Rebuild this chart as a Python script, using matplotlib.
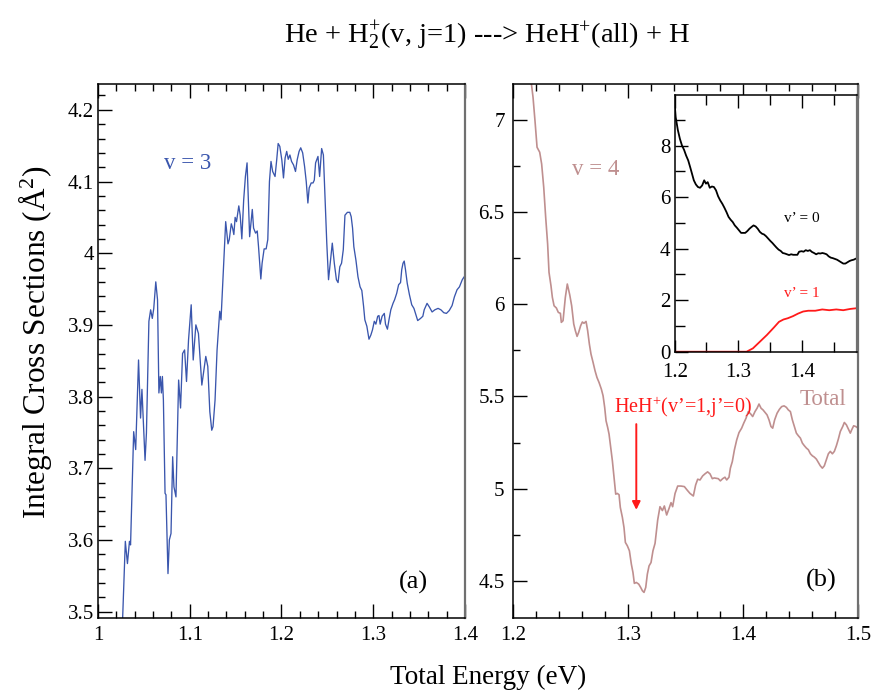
import matplotlib
matplotlib.use('Agg')  # no display
import matplotlib.pyplot as plt
from matplotlib.ticker import MultipleLocator, FuncFormatter

plt.rcParams['font.family'] = ['Liberation Serif', 'DejaVu Serif']
plt.rcParams['mathtext.fontset'] = 'custom'
plt.rcParams['mathtext.rm'] = 'Liberation Serif'
plt.rcParams['mathtext.it'] = 'Liberation Serif:italic'

# panel (a): v = 3
energy_v3 = [1.0255, 1.0268, 1.0298, 1.0321, 1.0343, 1.0355, 1.0389, 1.0411, 1.0442, 1.0464,
             1.0479, 1.0513, 1.0528, 1.0555, 1.0574, 1.0592, 1.0608, 1.0630, 1.0649, 1.0664,
             1.0679, 1.0691, 1.0702, 1.0713, 1.0731, 1.0741, 1.0763, 1.0778, 1.0796, 1.0814,
             1.0828, 1.0850, 1.0879, 1.0900, 1.0922, 1.0944, 1.0965, 1.0987, 1.1016, 1.1038,
             1.1067, 1.1095, 1.1132, 1.1154, 1.1175, 1.1197, 1.1219, 1.1240, 1.1254, 1.1276,
             1.1298, 1.1327, 1.1341, 1.1362, 1.1392,
             1.1417, 1.1431, 1.1453, 1.1467, 1.1481, 1.1495, 1.1510, 1.1535, 1.1550, 1.1568,
             1.1588, 1.1607, 1.1625, 1.1639, 1.1653, 1.1667, 1.1682, 1.1696, 1.1718, 1.1736,
             1.1750, 1.1760, 1.1775, 1.1789, 1.1811, 1.1833, 1.1851, 1.1869, 1.1886, 1.1904,
             1.1930, 1.1948, 1.1964, 1.1982, 1.2004, 1.2022, 1.2040, 1.2057, 1.2074, 1.2092,
             1.2110, 1.2132, 1.2153, 1.2171, 1.2192, 1.2210, 1.2231, 1.2252, 1.2270, 1.2288,
             1.2302, 1.2324, 1.2344, 1.2358, 1.2372, 1.2398, 1.2416, 1.2438, 1.2457, 1.2475,
             1.2494, 1.2513, 1.2532, 1.2554, 1.2576, 1.2599, 1.2617, 1.2636, 1.2655, 1.2674,
             1.2692,
             1.2719, 1.2745, 1.2760, 1.2775, 1.2789, 1.2812, 1.2834, 1.2857, 1.2876, 1.2895,
             1.2909, 1.2931, 1.2954, 1.2975, 1.2992, 1.3012, 1.3029, 1.3049, 1.3063, 1.3076,
             1.3097, 1.3121, 1.3134, 1.3155, 1.3172, 1.3192, 1.3216, 1.3233, 1.3256, 1.3277,
             1.3298, 1.3311, 1.3325, 1.3338, 1.3352, 1.3371, 1.3395, 1.3420, 1.3444, 1.3461,
             1.3485, 1.3516, 1.3541, 1.3556, 1.3587, 1.3612, 1.3642, 1.3672, 1.3707, 1.3738,
             1.3769, 1.3798, 1.3829, 1.3860, 1.3885, 1.3914, 1.3940, 1.3971, 1.3991, 1.4000]
sigma_v3 = [3.45, 3.488, 3.598, 3.567, 3.598, 3.593, 3.751, 3.726, 3.851, 3.770,
            3.810, 3.711, 3.749, 3.905, 3.921, 3.909, 3.923, 3.960, 3.935, 3.805,
            3.828, 3.805, 3.828, 3.795, 3.665, 3.663, 3.553, 3.600, 3.609, 3.716,
            3.674, 3.660, 3.823, 3.784, 3.860, 3.865, 3.821, 3.879, 3.928, 3.851,
            3.900, 3.888, 3.816, 3.837, 3.856, 3.842, 3.779, 3.753, 3.758, 3.795,
            3.865, 3.919, 3.907, 3.963, 4.044,
            4.013, 4.019, 4.041, 4.035, 4.026, 4.050, 4.044, 4.066, 4.053, 4.020,
            4.074, 4.107, 4.126, 4.074, 4.023, 4.042, 4.061, 4.035, 4.028, 4.031,
            4.009, 3.991, 3.964, 3.986, 4.006, 4.006, 4.019, 4.100, 4.128, 4.114,
            4.107, 4.130, 4.153, 4.149, 4.130, 4.105, 4.133, 4.142, 4.131, 4.137,
            4.128, 4.123, 4.114, 4.130, 4.142, 4.147, 4.140, 4.121, 4.100, 4.070,
            4.091, 4.098, 4.098, 4.102, 4.126, 4.135, 4.107, 4.146, 4.137, 4.079,
            4.014, 3.963, 3.986, 4.014, 3.986, 3.963, 3.959, 3.981, 3.986, 4.005,
            4.053,
            4.057, 4.057, 4.051, 4.035, 4.009, 3.990, 3.967, 3.953, 3.948, 3.926,
            3.907, 3.898, 3.880, 3.886, 3.893, 3.905, 3.901, 3.912, 3.913, 3.901,
            3.912, 3.916, 3.901, 3.894, 3.907, 3.921, 3.930, 3.935, 3.944, 3.956,
            3.959, 3.977, 3.986, 3.989, 3.977, 3.958, 3.942, 3.928, 3.923, 3.916,
            3.906, 3.909, 3.912, 3.921, 3.930, 3.925, 3.918, 3.921, 3.923, 3.921,
            3.917, 3.916, 3.920, 3.927, 3.939, 3.949, 3.953, 3.963, 3.967, 3.963]

# panel (b): v = 4, total
energy_v4 = [1.2140, 1.2160, 1.2174, 1.2191, 1.2209, 1.2232, 1.2249, 1.2267, 1.2284, 1.2301,
             1.2313, 1.2330, 1.2342, 1.2357, 1.2377, 1.2394, 1.2412, 1.2420, 1.2435, 1.2455,
             1.2472, 1.2493, 1.2510, 1.2528, 1.2542, 1.2557, 1.2571, 1.2588, 1.2603, 1.2617,
             1.2635, 1.2649, 1.2664, 1.2678, 1.2696, 1.2713, 1.2730, 1.2748, 1.2768, 1.2783,
             1.2797, 1.2809, 1.2823, 1.2835, 1.2849, 1.2864, 1.2878, 1.2893, 1.2907, 1.2922,
             1.2933, 1.2951, 1.2965, 1.2977, 1.2994, 1.3012, 1.3029, 1.3043, 1.3055, 1.3072,
             1.3093, 1.3110, 1.3125, 1.3139, 1.3154, 1.3168, 1.3183, 1.3200, 1.3217,
             1.3235, 1.3258, 1.3278, 1.3299, 1.3316, 1.3336, 1.3357, 1.3374, 1.3388, 1.3409,
             1.3432, 1.3461, 1.3490, 1.3513, 1.3539, 1.3568, 1.3588, 1.3606, 1.3626, 1.3649,
             1.3669, 1.3692, 1.3713, 1.3733, 1.3750, 1.3767, 1.3785, 1.3803, 1.3823, 1.3843,
             1.3858, 1.3878, 1.3890, 1.3907, 1.3925, 1.3945, 1.3965, 1.3988, 1.4006, 1.4026,
             1.4046, 1.4067, 1.4084, 1.4104, 1.4122, 1.4139, 1.4157, 1.4174, 1.4191, 1.4209,
             1.4226, 1.4243, 1.4258, 1.4275, 1.4296, 1.4316, 1.4336, 1.4357, 1.4377, 1.4394,
             1.4412, 1.4429, 1.4447, 1.4464, 1.4481, 1.4499, 1.4516, 1.4533, 1.4551, 1.4568,
             1.4586, 1.4603, 1.4620, 1.4638, 1.4655, 1.4672, 1.4690, 1.4707, 1.4725, 1.4742,
             1.4759, 1.4777, 1.4794, 1.4812, 1.4829, 1.4846, 1.4867, 1.4881, 1.4899, 1.4916,
             1.4933, 1.4945, 1.4962, 1.4980, 1.5000]
sigma_v4 = [7.30, 7.195, 7.123, 6.996, 6.852, 6.825, 6.761, 6.635, 6.472, 6.327,
            6.173, 6.101, 6.038, 5.992, 5.980, 5.956, 5.951, 5.902, 5.911, 6.038,
            6.110, 6.052, 5.992, 5.893, 5.857, 5.826, 5.848, 5.884, 5.904, 5.897,
            5.907, 5.857, 5.784, 5.730, 5.685, 5.640, 5.603, 5.576, 5.540, 5.504,
            5.441, 5.368, 5.332, 5.296, 5.224, 5.151, 5.061, 4.970, 4.974, 4.967,
            4.898, 4.844, 4.789, 4.708, 4.690, 4.663, 4.590, 4.545, 4.486, 4.491,
            4.482, 4.464, 4.446, 4.437, 4.464, 4.536, 4.581, 4.599, 4.663,
            4.703, 4.830, 4.902, 4.881, 4.906, 4.857, 4.893, 4.924, 4.902, 4.974,
            5.014, 5.014, 5.011, 4.993, 4.974, 4.960, 5.020, 5.051, 5.047, 5.069,
            5.080, 5.091, 5.080, 5.054, 5.058, 5.056, 5.054, 5.042, 5.054, 5.062,
            5.047, 5.062, 5.111, 5.147, 5.210, 5.264, 5.304, 5.328, 5.355, 5.382,
            5.418, 5.405, 5.391, 5.418, 5.436, 5.459, 5.436, 5.427, 5.414, 5.400,
            5.373, 5.337, 5.328, 5.373, 5.409, 5.430, 5.445, 5.449, 5.441, 5.427,
            5.418, 5.373, 5.337, 5.301, 5.287, 5.274, 5.247, 5.233, 5.220, 5.211,
            5.189, 5.178, 5.171, 5.160, 5.142, 5.124, 5.111, 5.124, 5.157, 5.189,
            5.202, 5.189, 5.202, 5.233, 5.269, 5.310, 5.337, 5.359, 5.346, 5.323,
            5.301, 5.319, 5.341, 5.337, 5.328]

# inset: HeH+(v'=0) and HeH+(v'=1)
energy_inset0 = [1.2000, 1.2016, 1.2049, 1.2082, 1.2115, 1.2148, 1.2180, 1.2213, 1.2246, 1.2273,
                 1.2301, 1.2333, 1.2366, 1.2399, 1.2432, 1.2464, 1.2492, 1.2519, 1.2552, 1.2585,
                 1.2617, 1.2650, 1.2683, 1.2716, 1.2749, 1.2781, 1.2814, 1.2847, 1.2880, 1.2913,
                 1.2945, 1.2978, 1.3011, 1.3044, 1.3077, 1.3109, 1.3142, 1.3175, 1.3208, 1.3240,
                 1.3273, 1.3306, 1.3339, 1.3372, 1.3404, 1.3437, 1.3470, 1.3503, 1.3536, 1.3568,
                 1.3601, 1.3634, 1.3667, 1.3699, 1.3732, 1.3765, 1.3798, 1.3831, 1.3863, 1.3896,
                 1.3929, 1.3956, 1.3995, 1.4027, 1.4060, 1.4093, 1.4126, 1.4158, 1.4191, 1.4224,
                 1.4257, 1.4290, 1.4322, 1.4355, 1.4388, 1.4421, 1.4454, 1.4486, 1.4519, 1.4552,
                 1.4585, 1.4617, 1.4650, 1.4683, 1.4716, 1.4749, 1.4781, 1.4814, 1.4847, 1.4880,
                 1.4913, 1.4945, 1.4995]
sigma_inset0 = [9.61, 9.10, 8.61, 8.26, 8.00, 7.83, 7.61, 7.42, 7.14, 6.90,
                6.65, 6.49, 6.39, 6.36, 6.45, 6.65, 6.52, 6.58, 6.36, 6.41,
                6.39, 6.26, 6.03, 5.87, 5.74, 5.59, 5.42, 5.23, 5.12, 5.03,
                4.90, 4.81, 4.71, 4.61, 4.61, 4.61, 4.68, 4.77, 4.84, 4.90,
                4.86, 4.77, 4.65, 4.58, 4.55, 4.48, 4.39, 4.30, 4.22, 4.13,
                4.04, 3.96, 3.91, 3.83, 3.81, 3.78, 3.75, 3.78, 3.76, 3.76,
                3.76, 3.88, 3.90, 3.88, 3.94, 3.91, 3.94, 3.87, 3.83, 3.78,
                3.82, 3.81, 3.83, 3.81, 3.78, 3.70, 3.65, 3.63, 3.60, 3.57,
                3.52, 3.47, 3.42, 3.42, 3.47, 3.52, 3.55, 3.57, 3.61, 3.63,
                3.61, 3.59, 3.60]
energy_inset1 = [1.200, 1.313, 1.323, 1.334, 1.345, 1.356, 1.364, 1.371, 1.378, 1.386,
                 1.394, 1.402, 1.410, 1.421, 1.432, 1.443, 1.454, 1.465, 1.476, 1.487, 1.4995]
sigma_inset1 = [0.0, 0.0, 0.13, 0.39, 0.65, 0.94, 1.16, 1.25, 1.30, 1.38,
                1.48, 1.56, 1.59, 1.59, 1.64, 1.61, 1.64, 1.61, 1.66, 1.69, 1.72]

blue = '#3a56ad'
rosy = '#bf8f8f'
red = '#ff1a1a'
fmt = FuncFormatter(lambda v, p: '%g' % round(v, 3))


def style_axis(ax, xmaj, xmin, ymaj, ymin, size=15, major=10, minor=5, pad=4):
    ax.xaxis.set_major_locator(MultipleLocator(xmaj))
    ax.xaxis.set_minor_locator(MultipleLocator(xmin))
    ax.yaxis.set_major_locator(MultipleLocator(ymaj))
    ax.yaxis.set_minor_locator(MultipleLocator(ymin))
    ax.xaxis.set_major_formatter(fmt)
    ax.yaxis.set_major_formatter(fmt)
    ax.tick_params(which='both', direction='in', top=True, right=False,
                   labelsize=size, width=1.0)
    ax.tick_params(axis='y', pad=pad)
    ax.tick_params(axis='x', pad=6)
    ax.tick_params(which='major', length=major)
    ax.tick_params(which='minor', length=minor)
    for side in ['left', 'bottom', 'top']:
        ax.spines[side].set_linewidth(1.1)
    ax.spines['right'].set_color('#707070')
    ax.spines['right'].set_linewidth(1.6)


fig = plt.figure(figsize=(8.71, 6.91), dpi=100)

ax1 = fig.add_axes([0.1125, 0.1056, 0.4213, 0.7728])
ax1.plot(energy_v3, sigma_v3, color=blue, lw=0.95)
ax1.set_xlim(1.0, 1.4)
ax1.set_ylim(3.491, 4.236)
style_axis(ax1, 0.1, 0.02, 0.1, 0.02, pad=3)
ax1.text(1.072, 4.125, 'v = 3', color=blue, fontsize=16.5, va='center')
ax1.text(1.3275, 3.54, '(a)', fontsize=19, va='center')

ax2 = fig.add_axes([0.589, 0.1056, 0.3961, 0.7728])
ax2.plot(energy_v4, sigma_v4, color=rosy, lw=1.2)
ax2.set_xlim(1.2, 1.5)
ax2.set_ylim(4.298, 7.195)
style_axis(ax2, 0.1, 0.02, 0.5, 0.25, pad=6)
ax2.text(1.2515, 6.734, 'v = 4', color=rosy, fontsize=16.5, va='center')
ax2.text(1.4495, 5.485, 'Total', color=rosy, fontsize=16.5, va='center')
ax2.text(1.4545, 4.50, '(b)', fontsize=19, va='center')
ax2.text(1.2875, 5.44, "HeH$^{+}$(v’=1,j’=0)", color=red, fontsize=14.5, va='center')
ax2.annotate('', xy=(1.3072, 4.885), xytext=(1.3072, 5.35),
             arrowprops=dict(arrowstyle='-|>', color=red, lw=1.4,
                             mutation_scale=12, shrinkA=0, shrinkB=0))

ax3 = fig.add_axes([0.7746, 0.491, 0.2096, 0.3719])
ax3.plot(energy_inset0, sigma_inset0, color='black', lw=1.3)
ax3.plot(energy_inset1, sigma_inset1, color=red, lw=1.3)
ax3.set_xlim(1.2, 1.487)
ax3.set_ylim(0, 9.97)
style_axis(ax3, 0.1, 0.05, 2, 1, size=15, major=9, minor=7, pad=3)
ax3.set_xticks([1.2, 1.3, 1.4])
ax3.set_yticks([0, 2, 4, 6, 8])
ax3.tick_params(axis='x', pad=8)
ax3.text(1.3726, 5.16, 'v’ = 0', fontsize=11, va='center')
ax3.text(1.3726, 2.26, 'v’ = 1', color=red, fontsize=11, va='center')

fig.text(0.559, 0.948, 'He + H$_{2}^{+}$(v, j=1) ---> HeH$^{+}$(all) + H',
         ha='center', va='center', fontsize=20.5)
fig.text(0.040, 0.505, 'Integral Cross Sections (Å$^{2}$)', rotation=90,
         ha='center', va='center', fontsize=22.5)
fig.text(0.56, 0.019, 'Total Energy (eV)', ha='center', va='center', fontsize=19.5)

fig.savefig('out.png', dpi=100)
